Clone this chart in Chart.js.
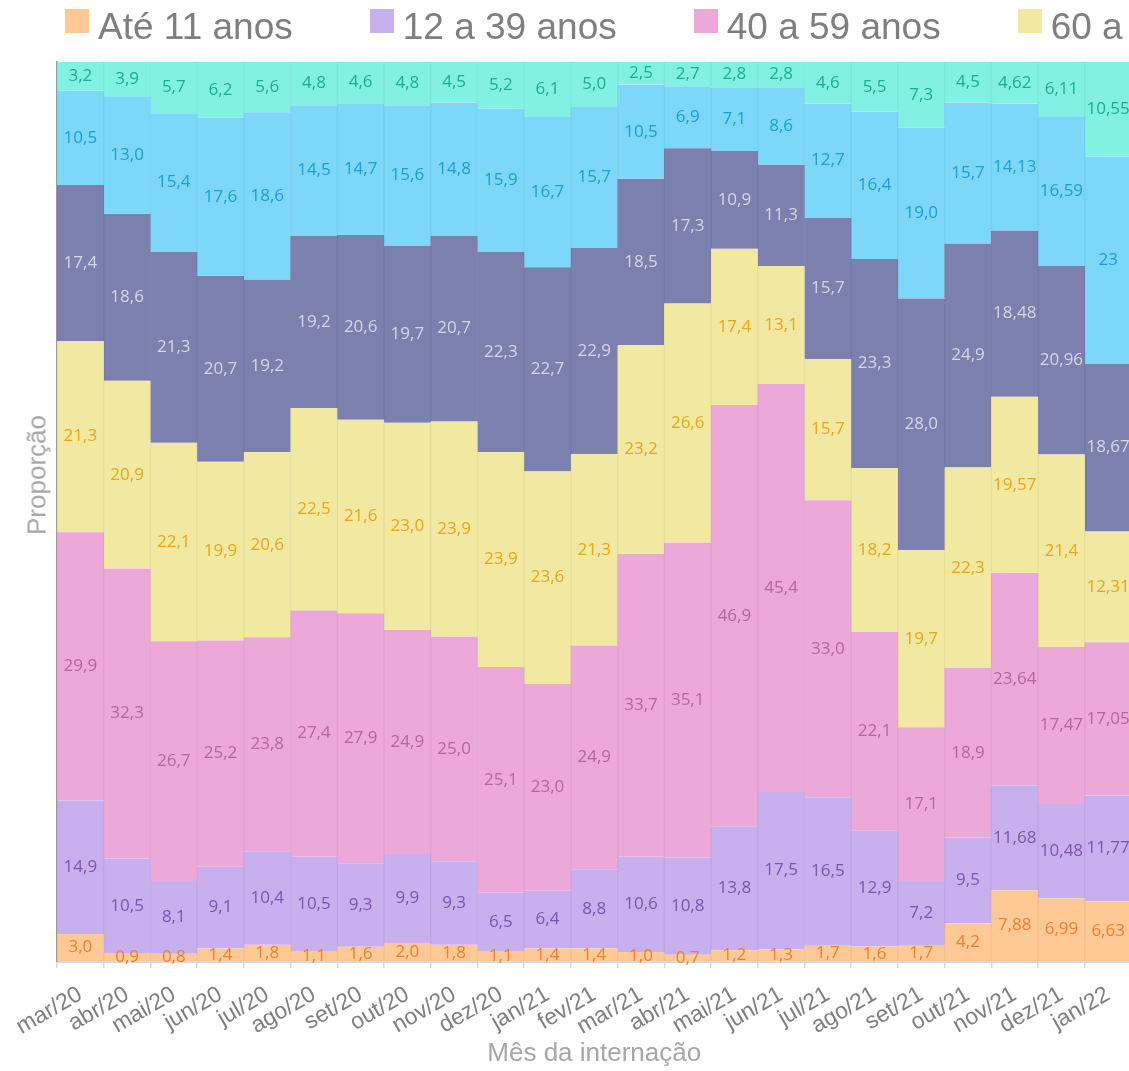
<!DOCTYPE html>
<html lang="pt-BR">
<head>
<meta charset="utf-8">
<title>Proporção de internações por faixa etária</title>
<script src="https://cdn.jsdelivr.net/npm/chart.js@4.4.1/dist/chart.umd.min.js"></script>
<style>
  html,body{margin:0;padding:0;background:#fff;overflow:hidden;}
  #wrap{position:relative;width:1129px;height:1071px;overflow:hidden;}
  #chart{position:absolute;left:0;top:0;}
  #legend{position:absolute;left:65px;top:5px;white-space:nowrap;display:flex;
    font:37px/44px "Liberation Sans",Arial,sans-serif;color:#7f7f7f;}
  #legend .item{display:flex;align-items:flex-start;margin-right:77px;}
  #legend .sw{width:24px;height:24px;margin-top:4px;margin-right:9px;flex:none;}
  #ytitle{position:absolute;left:37px;top:475px;transform:translate(-50%,-50%) rotate(-90deg);
    font:26px "Liberation Sans",Arial,sans-serif;color:#a6a6a6;white-space:nowrap;}
</style>
</head>
<body>
<div id="wrap">
  <canvas id="chart" width="1135" height="1071"></canvas>
  <div id="legend"></div>
  <div id="ytitle">Proporção</div>
</div>
<script>
const months = ['mar/20','abr/20','mai/20','jun/20','jul/20','ago/20','set/20','out/20','nov/20','dez/20','jan/21','fev/21',
  'mar/21','abr/21','mai/21','jun/21','jul/21','ago/21','set/21','out/21','nov/21','dez/21','jan/22'];

// casas decimais usadas no rótulo de cada mês
const decimals = [1,1,1,1,1,1,1,1,1,1,1,1,1,1,1,1,1,1,1,1,2,2,2];

const ate11   = [3.0,0.9,0.8,1.4,1.8,1.1,1.6,2.0,1.8,1.1,1.4,1.4,1.0,0.7,1.2,1.3,1.7,1.6,1.7,4.2,7.88,6.99,6.63];
const de12a39 = [14.9,10.5,8.1,9.1,10.4,10.5,9.3,9.9,9.3,6.5,6.4,8.8,10.6,10.8,13.8,17.5,16.5,12.9,7.2,9.5,11.68,10.48,11.77];
const de40a59 = [29.9,32.3,26.7,25.2,23.8,27.4,27.9,24.9,25.0,25.1,23.0,24.9,33.7,35.1,46.9,45.4,33.0,22.1,17.1,18.9,23.64,17.47,17.05];
const de60a69 = [21.3,20.9,22.1,19.9,20.6,22.5,21.6,23.0,23.9,23.9,23.6,21.3,23.2,26.6,17.4,13.1,15.7,18.2,19.7,22.3,19.57,21.4,12.31];
const de70a79 = [17.4,18.6,21.3,20.7,19.2,19.2,20.6,19.7,20.7,22.3,22.7,22.9,18.5,17.3,10.9,11.3,15.7,23.3,28.0,24.9,18.48,20.96,18.67];
const de80a89 = [10.5,13.0,15.4,17.6,18.6,14.5,14.7,15.6,14.8,15.9,16.7,15.7,10.5,6.9,7.1,8.6,12.7,16.4,19.0,15.7,14.13,16.59,23];
const de90mais = [3.2,3.9,5.7,6.2,5.6,4.8,4.6,4.8,4.5,5.2,6.1,5.0,2.5,2.7,2.8,2.8,4.6,5.5,7.3,4.5,4.62,6.11,10.55];

const seriesNames = ['Até 11 anos','12 a 39 anos','40 a 59 anos','60 a 69 anos','70 a 79 anos','80 a 89 anos','90 anos ou mais'];
const seriesValues = [ate11, de12a39, de40a59, de60a69, de70a79, de80a89, de90mais];
const fillColors   = ['#FFC996','#C8AFEE','#ECA8D8','#F1E8A2','#7C80AE','#7DD7F8','#82F1E4'];
const borderColors = ['#F3BF8E','#BDA5E2','#E0A0CD','#E6DD9A','#7478A5','#76CEEE','#7BE6D9'];
const labelColors  = ['#F07F2F','#7B55B5','#B5679C','#EBA617','#D5D6E8','#1A9EDC','#1DAE8D'];

function fmtValue(v, d){
  const s = d === 1 ? v.toFixed(1) : String(Number(v.toFixed(2)));
  return s.replace('.', ',');
}

// cada coluna soma ~100; normaliza para 100% e mantém o valor original no rótulo
const totals = months.map((_, j) => seriesValues.reduce((acc, arr) => acc + arr[j], 0));

const segmentLabels = {
  id: 'segmentLabels',
  afterDatasetsDraw(chart){
    const ctx = chart.ctx;
    ctx.save();
    ctx.font = '17px "Open Sans", sans-serif';
    ctx.textAlign = 'center';
    ctx.textBaseline = 'middle';
    chart.data.datasets.forEach((ds, i) => {
      const meta = chart.getDatasetMeta(i);
      ctx.fillStyle = labelColors[i];
      meta.data.forEach((bar, j) => {
        ctx.fillText(fmtValue(seriesValues[i][j], decimals[j]), bar.x, (bar.y + bar.base) / 2);
      });
    });
    ctx.restore();
  }
};

Chart.defaults.font.family = '"Liberation Sans", Arial, sans-serif';

const chart = new Chart(document.getElementById('chart'), {
  type: 'bar',
  data: {
    labels: months,
    datasets: seriesValues.map((arr, i) => ({
      label: seriesNames[i],
      data: arr.map((v, j) => v * 100 / totals[j]),
      backgroundColor: fillColors[i],
      borderColor: borderColors[i],
      borderWidth: {left: 1, right: 1, top: 0, bottom: 0},
      borderSkipped: false,
      categoryPercentage: 1,
      barPercentage: 1
    }))
  },
  options: {
    responsive: false,
    animation: false,
    layout: { padding: { top: 62, right: 2, left: 0, bottom: 0 } },
    plugins: { legend: { display: false }, tooltip: { enabled: false } },
    scales: {
      x: {
        stacked: true,
        grid: { display: true, drawOnChartArea: false, tickLength: 7, color: '#d9d9d9', lineWidth: 1.5, offset: true },
        border: { display: true, color: '#d9d9d9', width: 3 },
        ticks: { color: '#7f7f7f', font: { size: 23 }, minRotation: 30, maxRotation: 30, autoSkip: false, padding: 13 },
        title: { display: true, text: 'Mês da internação', color: '#a6a6a6', font: { size: 26 }, padding: { top: 0, bottom: 2 } },
        afterFit(s){ s.height = 110; }
      },
      y: {
        stacked: true,
        min: 0, max: 100,
        grid: { display: false },
        ticks: { display: false },
        border: { display: true, color: '#9a9a9a', width: 1.5 },
        afterFit(s){ s.width = 57; }
      }
    }
  },
  plugins: [segmentLabels]
});

// legenda em HTML, numa linha só (cortada na borda como no original)
document.getElementById('legend').innerHTML = chart.data.datasets.map(ds =>
  `<div class="item"><div class="sw" style="background:${ds.backgroundColor}"></div><span>${ds.label}</span></div>`
).join('');
</script>
</body>
</html>
